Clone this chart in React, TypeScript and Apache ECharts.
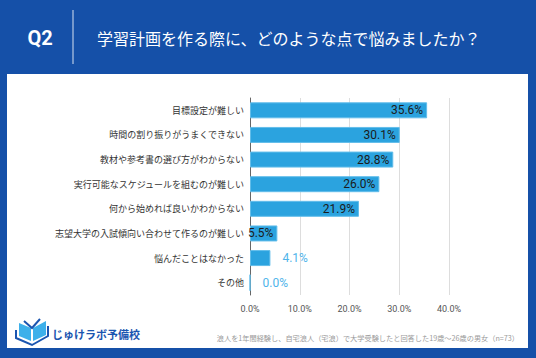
import React, { useEffect, useRef } from "react";
import * as echarts from "echarts";

const categories = [
  "目標設定が難しい",
  "時間の割り振りがうまくできない",
  "教材や参考書の選び方がわからない",
  "実行可能なスケジュールを組むのが難しい",
  "何から始めれば良いかわからない",
  "志望大学の入試傾向い合わせて作るのが難しい",
  "悩んだことはなかった",
  "その他",
];
const values = [35.6, 30.1, 28.8, 26.0, 21.9, 5.5, 4.1, 0.0];
const axisMax = 40;
const axisStep = 10;
const titleQ = "Q2";
const titleText = "学習計画を作る際に、どのような点で悩みましたか？";
const noteText = "浪人を1年間経験し、自宅浪人（宅浪）で大学受験したと回答した19歳～26歳の男女（n=73）";
const logoText = "じゅけラボ予備校";

const BLUE = "#1550a8";
const BAR = "#2ba3df";

export default function App() {
  const ref = useRef<HTMLDivElement>(null);
  useEffect(() => {
    const chart = echarts.init(ref.current!, undefined, { renderer: "svg" });
    const data = values.map((v) => {
      const inside = v >= 5;
      return {
        value: v,
        label: inside
          ? { position: "insideRight", color: "#1b1b1b", distance: 4 }
          : { position: "right", color: "#4fb4ea", distance: 12 },
      };
    });
    chart.setOption({
      animation: false,
      backgroundColor: BLUE,
      grid: { left: 250, right: 87, top: 98, height: 197 },
      xAxis: {
        type: "value",
        min: 0,
        max: axisMax,
        interval: axisStep,
        axisLine: { show: false },
        axisTick: { show: false },
        splitLine: { show: true, lineStyle: { color: "#dddddd", width: 1 } },
        axisLabel: {
          formatter: (v: number) => v.toFixed(1) + "%",
          fontSize: 9,
          color: "#555",
          margin: 9,
          fontFamily: "Roboto, sans-serif",
        },
      },
      yAxis: {
        type: "category",
        inverse: true,
        data: categories,
        axisLine: { show: true, lineStyle: { color: "#666", width: 1 } },
        axisTick: { show: false },
        axisLabel: {
          fontSize: 9,
          color: "#333",
          margin: 6,
          fontFamily: "'Noto Sans CJK JP', sans-serif",
        },
      },
      series: [
        {
          type: "bar",
          data,
          barWidth: 16,
          itemStyle: { color: BAR, borderColor: "#62bdea", borderWidth: 1 },
          label: {
            show: true,
            fontSize: 12,
            fontFamily: "Roboto, sans-serif",
            formatter: (p: any) => Number(p.value).toFixed(1) + "%",
          },
        },
      ],
      graphic: [
        {
          type: "rect",
          z: -10,
          silent: true,
          shape: { x: 7, y: 74, width: 521, height: 274 },
          style: { fill: "#ffffff" },
        },
        {
          type: "text",
          x: 40,
          y: 38,
          style: {
            text: titleQ,
            fill: "#fff",
            fontSize: 20,
            fontWeight: "bold",
            fontFamily: "Roboto, sans-serif",
            align: "center",
            verticalAlign: "middle",
          },
        },
        {
          type: "line",
          shape: { x1: 73, y1: 10, x2: 73, y2: 64 },
          style: { stroke: "rgba(255,255,255,0.55)", lineWidth: 1.5 },
        },
        {
          type: "text",
          x: 97,
          y: 38,
          style: {
            text: titleText,
            fill: "#fff",
            fontSize: 16,
            fontFamily: "'Noto Sans CJK JP', sans-serif",
            align: "left",
            verticalAlign: "middle",
          },
        },
        {
          type: "text",
          x: 519,
          y: 338,
          style: {
            text: noteText,
            fill: "#9a9a9a",
            fontSize: 7.2,
            fontFamily: "'Noto Sans CJK JP', sans-serif",
            align: "right",
            verticalAlign: "middle",
          },
        },
        // logo icon
        {
          type: "polygon",
          shape: { points: [[19, 323], [31, 328], [31, 341], [19, 336]] },
          style: { fill: "#3db0ea" },
        },
        {
          type: "polygon",
          shape: { points: [[33, 328], [46, 321], [46, 335], [33, 341]] },
          style: { fill: "#3db0ea" },
        },
        {
          type: "polyline",
          shape: { points: [[16, 330], [16, 338], [32, 345], [48, 336], [48, 326]] },
          style: { stroke: "#1a55b0", lineWidth: 2, fill: "none" },
        },
        {
          type: "polyline",
          shape: { points: [[24, 321], [32, 328], [40, 319]] },
          style: { stroke: "#1a55b0", lineWidth: 2, fill: "none" },
        },
        {
          type: "text",
          x: 52,
          y: 334,
          style: {
            text: logoText,
            fill: "#1a55b0",
            fontSize: 11,
            fontWeight: "bold",
            fontFamily: "'Noto Sans CJK JP', sans-serif",
            align: "left",
            verticalAlign: "middle",
          },
        },
      ],
    });
    return () => chart.dispose();
  }, []);
  return (
    <div
      ref={ref}
      style={{ position: "absolute", left: 0, top: 0, width: 536, height: 358 }}
    />
  );
}
